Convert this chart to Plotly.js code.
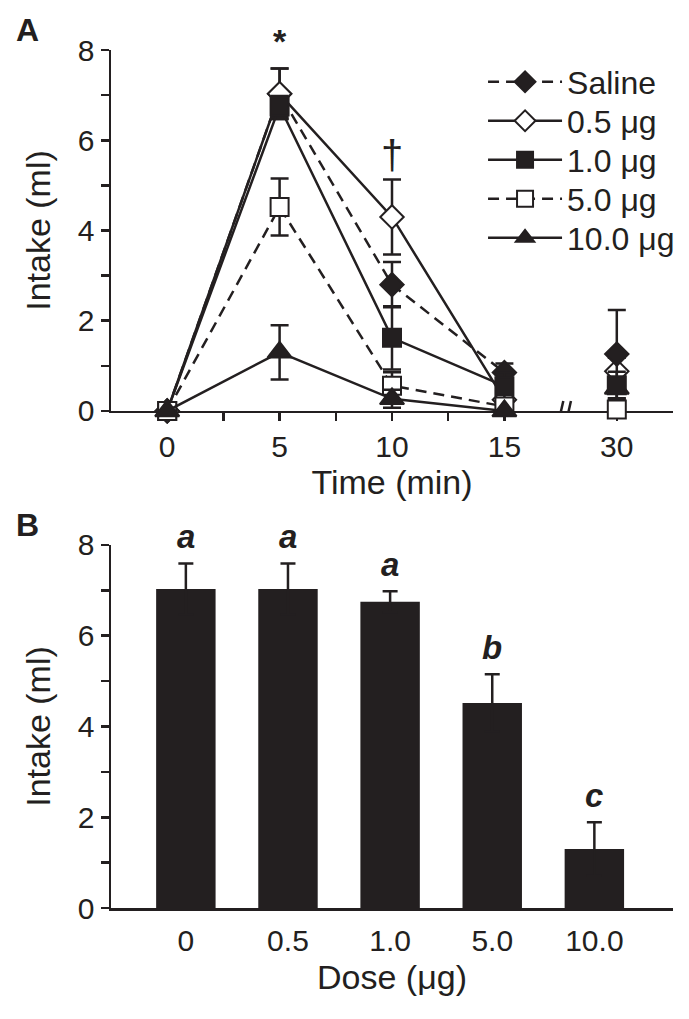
<!DOCTYPE html>
<html>
<head>
<meta charset="utf-8">
<script src="https://cdn.plot.ly/plotly-3.0.1.min.js"></script>
<style>
  html, body { margin: 0; padding: 0; background: #fff; }
  #chart { width: 689px; height: 1019px; }
</style>
</head>
<body>
<div id="chart"></div>
<script>
// ---------- Panel A data: intake (ml) over time (min), mean and SEM ----------
const times = [0, 5, 10, 15, 30];
const timeTickLabels = ['0', '5', '10', '15', '30'];

const salineMean  = [0, 7.03, 2.80, 0.85, 1.26];
const salineSem   = [0, 0.56, 0.50, 0.20, 0.98];
const dose05Mean  = [0, 7.03, 4.30, 0.25, 0.88];
const dose05Sem   = [0, 0.56, 0.83, 0.10, 0.30];
const dose10Mean  = [0, 6.75, 1.62, 0.55, 0.57];
const dose10Sem   = [0, 0.23, 0.70, 0.30, 0.30];
const dose50Mean  = [0, 4.52, 0.56, 0.10, 0.03];
const dose50Sem   = [0, 0.63, 0.30, 0.05, 0.05];
const dose100Mean = [0, 1.30, 0.27, 0.00, 0.50];
const dose100Sem  = [0, 0.60, 0.20, 0.00, 0.30];

const seriesNames = ['Saline', '0.5 μg', '1.0 μg', '5.0 μg', '10.0 μg'];

// ---------- Panel B data: intake at 5 min by dose ----------
const doseLabels = ['0', '0.5', '1.0', '5.0', '10.0'];
const doseMean   = [7.03, 7.03, 6.75, 4.52, 1.30];
const doseSem    = [0.56, 0.56, 0.23, 0.63, 0.59];
const doseLetters = ['a', 'a', 'a', 'b', 'c'];

// significance marks for panel A
const sigTimes = [5, 10];
const sigMarks = ['*', '†'];

// ---------- styling ----------
const INK = '#231f20';
const FONT = 'Liberation Sans, Arial, Helvetica, sans-serif';
const BREAK_AFTER = 15;      // axis break between 15 and 30 min
const BREAK_SHIFT = 10;      // 30 min drawn where 20 would be
const pos = t => (t > BREAK_AFTER ? t - BREAK_SHIFT : t);

const DOM_A = [0.5967, 0.9509];
const DOM_B = [0.1089, 0.4652];
const Y_RANGE = [0, 8];
const toPaperY = (v, dom) => dom[0] + (v - Y_RANGE[0]) / (Y_RANGE[1] - Y_RANGE[0]) * (dom[1] - dom[0]);

const styles = [
  {dash: '11px,7px', symbol: 'diamond', fill: INK, size: 18},
  {dash: 'solid',    symbol: 'diamond', fill: '#ffffff', size: 18},
  {dash: 'solid',    symbol: 'square',  fill: INK, size: 18},
  {dash: '11px,7px', symbol: 'square',  fill: '#ffffff', size: 18},
  {dash: 'solid',    symbol: 'triangle-up', fill: INK, size: 21}
];
const means = [salineMean, dose05Mean, dose10Mean, dose50Mean, dose100Mean];
const sems  = [salineSem, dose05Sem, dose10Sem, dose50Sem, dose100Sem];
const legendIds = ['legend', 'legend2', 'legend3', 'legend4', 'legend5'];

const traces = [];
const contIdx = times.map((t, i) => i).filter(i => times[i] <= BREAK_AFTER);
const lateIdx = times.map((t, i) => i).filter(i => times[i] > BREAK_AFTER);

function errBar(arr) {
  return {type: 'data', array: arr, visible: true, color: INK, thickness: 2.5, width: 9};
}

means.forEach((m, s) => {
  const st = styles[s];
  traces.push({
    type: 'scatter', mode: 'lines+markers', name: seriesNames[s],
    legend: legendIds[s], legendgroup: 'g' + s,
    x: contIdx.map(i => pos(times[i])), y: contIdx.map(i => m[i]),
    line: {color: INK, width: 2.5, dash: st.dash},
    marker: {symbol: st.symbol, size: st.size, color: st.fill, line: {color: INK, width: 2}},
    error_y: errBar(contIdx.map(i => sems[s][i])),
    cliponaxis: false, xaxis: 'x', yaxis: 'y'
  });
});
// points after the axis break (not connected), drawn in an order that keeps the overlaps
[4, 1, 0, 2, 3].forEach(s => {
  const st = styles[s];
  traces.push({
    type: 'scatter', mode: 'markers', name: seriesNames[s], showlegend: false,
    legendgroup: 'g' + s,
    x: lateIdx.map(i => pos(times[i])), y: lateIdx.map(i => means[s][i]),
    marker: {symbol: st.symbol, size: st.size, color: st.fill, line: {color: INK, width: 2}},
    error_y: errBar(lateIdx.map(i => sems[s][i])),
    cliponaxis: false, xaxis: 'x', yaxis: 'y'
  });
});

// Panel B bars (lower half of each error bar is hidden inside the bar)
traces.push({
  type: 'bar', x: doseLabels, y: doseMean, showlegend: false,
  marker: {color: INK, line: {width: 0}},
  error_y: {type: 'data', array: doseSem, visible: true,
            color: INK, thickness: 2.5, width: 7.5},
  xaxis: 'x2', yaxis: 'y2', cliponaxis: false
});

// ---------- annotations ----------
const annotations = [];
sigTimes.forEach((t, k) => {
  const i = times.indexOf(t);
  const top = Math.max(...means.map((m, s) => m[i] + sems[s][i]));
  annotations.push({
    x: pos(t), xref: 'x', y: toPaperY(top + (k === 0 ? 0.62 : 0.55), DOM_A), yref: 'paper',
    text: k === 0 ? '<b>' + sigMarks[k] + '</b>' : sigMarks[k], showarrow: false,
    font: {family: FONT, size: k === 0 ? 34 : 40, color: INK},
    xanchor: 'center', yanchor: 'middle'
  });
});
doseLabels.forEach((d, i) => {
  annotations.push({
    x: i, xref: 'x2', y: toPaperY(doseMean[i] + doseSem[i] + 0.6, DOM_B), yref: 'paper',
    text: '<b><i>' + doseLetters[i] + '</i></b>', showarrow: false,
    font: {family: FONT, size: 33, color: INK},
    xanchor: 'center', yanchor: 'middle'
  });
});
annotations.push({x: -0.148, y: 0.9706, xref: 'paper', yref: 'paper', text: '<b>A</b>',
  showarrow: false, font: {family: FONT, size: 32, color: INK}, xanchor: 'center', yanchor: 'middle'});
annotations.push({x: -0.148, y: 0.4848, xref: 'paper', yref: 'paper', text: '<b>B</b>',
  showarrow: false, font: {family: FONT, size: 32, color: INK}, xanchor: 'center', yanchor: 'middle'});

// axis-break marks
const bx = 17.68;
const shapes = [
  {type: 'rect', xref: 'x', yref: 'y', x0: bx - 0.08, x1: bx + 0.08, y0: -0.07, y1: 0.07,
   fillcolor: '#ffffff', line: {width: 0}, layer: 'above'},
  {type: 'line', xref: 'x', yref: 'y', x0: bx - 0.28, y0: -0.26, x1: bx - 0.06, y1: 0.22,
   line: {color: INK, width: 2.5}, layer: 'above'},
  {type: 'line', xref: 'x', yref: 'y', x0: bx + 0.06, y0: -0.26, x1: bx + 0.28, y1: 0.22,
   line: {color: INK, width: 2.5}, layer: 'above'}
];

// ---------- axes ----------
const yTicks = [0, 1, 2, 3, 4, 5, 6, 7, 8];
const yTickText = yTicks.map(v => (v % 2 === 0 ? String(v) : ''));
const xTickVals = [0, 2.5, 5, 7.5, 10, 12.5, 15, pos(30)];
const xTickText = xTickVals.map(v => {
  const k = times.map(pos).indexOf(v);
  return k >= 0 ? timeTickLabels[k] : '';
});

const axisCommon = {
  showline: true, linecolor: INK, linewidth: 2.5, zeroline: false, showgrid: false,
  ticks: 'outside', ticklen: 8, tickwidth: 2.5, tickcolor: INK,
  tickfont: {family: FONT, size: 30, color: INK}, layer: 'below traces', fixedrange: true
};
const titleFont = {family: FONT, size: 34, color: INK};

// one legend box per entry so the row spacing matches the original
const LEG_X = 0.662, LEG_TOP_PX = 82, LEG_STEP_PX = 39, H = 1019;
const legendBase = {
  xanchor: 'left', yanchor: 'middle', x: LEG_X,
  font: {family: FONT, size: 32, color: INK},
  bgcolor: 'rgba(0,0,0,0)', borderwidth: 0, itemwidth: 74
};

const layout = {
  width: 689, height: H,
  margin: {l: 111, r: 16, t: 0, b: 0},
  paper_bgcolor: '#ffffff', plot_bgcolor: '#ffffff',
  font: {family: FONT, color: INK},
  showlegend: true,
  bargap: 0.418,
  xaxis: Object.assign({}, axisCommon, {
    domain: [0, 1], anchor: 'y', range: [-2.5, 22.5],
    tickmode: 'array', tickvals: xTickVals, ticktext: xTickText,
    title: {text: 'Time (min)', font: titleFont, standoff: 2}
  }),
  yaxis: Object.assign({}, axisCommon, {
    domain: DOM_A, anchor: 'x', range: Y_RANGE,
    tickmode: 'array', tickvals: yTicks, ticktext: yTickText,
    title: {text: 'Intake (ml)', font: titleFont, standoff: 17}
  }),
  xaxis2: Object.assign({}, axisCommon, {
    domain: [0, 1], anchor: 'y2', type: 'category', range: [-0.733, 4.77],
    ticks: 'outside', ticklen: 4, tickcolor: 'rgba(0,0,0,0)',
    title: {text: 'Dose (μg)', font: titleFont, standoff: 10}
  }),
  yaxis2: Object.assign({}, axisCommon, {
    domain: DOM_B, anchor: 'x2', range: Y_RANGE,
    tickmode: 'array', tickvals: yTicks, ticktext: yTickText,
    title: {text: 'Intake (ml)', font: titleFont, standoff: 17}
  }),
  annotations: annotations,
  shapes: shapes
};
legendIds.forEach((id, k) => {
  layout[id] = Object.assign({}, legendBase, {y: 1 - (LEG_TOP_PX + k * LEG_STEP_PX) / H});
});

Plotly.newPlot('chart', traces, layout, {displayModeBar: false, staticPlot: true});
</script>
</body>
</html>
